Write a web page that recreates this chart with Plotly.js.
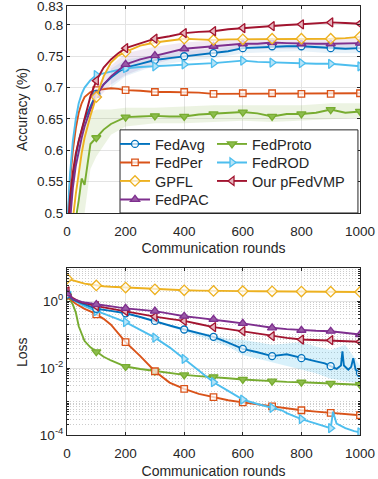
<!DOCTYPE html>
<html><head><meta charset="utf-8">
<script src="https://cdn.plot.ly/plotly-3.0.1.min.js"></script>
<style>html,body{margin:0;padding:0;background:#fff;} #chart{width:378px;height:479px;}</style>
</head><body><div id="chart"></div>
<script>
// ---------- data ----------
const rounds = [0,10,20,30,40,50,60,80,100,125,150,175,200,250,300,350,400,450,500,550,600,650,700,750,800,850,900,950,1000];

const accFedAvg   = [0.44,0.51,0.555,0.59,0.615,0.632,0.648,0.67,0.69,0.705,0.716,0.725,0.732,0.738,0.744,0.747,0.750,0.752,0.755,0.758,0.763,0.764,0.766,0.766,0.766,0.765,0.763,0.762,0.763];
const accFedPer   = [0.46,0.55,0.60,0.635,0.66,0.675,0.685,0.693,0.696,0.698,0.699,0.698,0.696,0.695,0.693,0.693,0.693,0.692,0.690,0.690,0.691,0.691,0.691,0.690,0.690,0.690,0.690,0.690,0.691];
const accGPFL     = [0.42,0.45,0.49,0.53,0.565,0.595,0.62,0.655,0.685,0.718,0.74,0.751,0.757,0.767,0.772,0.775,0.778,0.777,0.776,0.777,0.777,0.777,0.778,0.777,0.778,0.778,0.778,0.779,0.781];
const accFedPAC   = [0.43,0.49,0.54,0.575,0.60,0.62,0.638,0.665,0.688,0.705,0.718,0.728,0.737,0.745,0.751,0.757,0.762,0.764,0.766,0.768,0.770,0.770,0.772,0.771,0.770,0.770,0.770,0.771,0.771];
const accFedProto = [0.38,0.42,0.46,0.49,0.52,0.555,0.545,0.61,0.62,0.633,0.642,0.648,0.653,0.654,0.655,0.654,0.654,0.657,0.658,0.659,0.661,0.659,0.654,0.658,0.658,0.660,0.665,0.660,0.662];
const accFedROD   = [0.47,0.56,0.615,0.65,0.675,0.69,0.70,0.712,0.72,0.723,0.725,0.728,0.731,0.733,0.734,0.736,0.737,0.738,0.739,0.741,0.743,0.741,0.740,0.739,0.739,0.738,0.738,0.736,0.734];
const accPFedVMP  = [0.45,0.525,0.565,0.595,0.615,0.633,0.65,0.686,0.711,0.732,0.745,0.755,0.763,0.771,0.778,0.782,0.787,0.789,0.790,0.793,0.795,0.796,0.798,0.800,0.801,0.802,0.804,0.803,0.802];

// light noise envelopes (accuracy)
const protoBandX  = [40,60,80,100,150,200,300,400,500,600,700,800,900,1000];
const protoBandHi = [0.60,0.64,0.66,0.665,0.665,0.668,0.668,0.67,0.672,0.672,0.672,0.672,0.675,0.675];
const protoBandLo = [0.50,0.50,0.57,0.59,0.625,0.638,0.643,0.643,0.645,0.647,0.645,0.648,0.65,0.652];
const pacBandX    = [100,150,200,300,400,500,600,700,800,900,1000];
const pacBandHi   = [0.70,0.735,0.755,0.765,0.772,0.775,0.778,0.779,0.778,0.778,0.778];
const pacBandLo   = [0.68,0.705,0.72,0.738,0.75,0.757,0.762,0.763,0.762,0.762,0.762];
const avgBandX    = [150,200,300,400,500,600,700,800,900,1000];
const avgBandHi   = [0.73,0.745,0.752,0.758,0.762,0.768,0.771,0.771,0.77,0.769];
const avgBandLo   = [0.70,0.718,0.735,0.742,0.747,0.755,0.757,0.758,0.755,0.755];

// loss
const lossFedPer   = [1.5,1.2,1.0,0.85,0.75,0.67,0.6,0.5,0.41,0.3,0.2,0.11,0.06,0.023,0.0081,0.0037,0.0024,0.0017,0.00137,0.0011,0.00095,0.00082,0.00072,0.00063,0.00055,0.0005,0.00046,0.00042,0.00039];
const lossGPFL     = [4.8,4.5,4.2,3.95,3.75,3.55,3.4,3.2,3.0,2.85,2.75,2.67,2.6,2.45,2.3,2.22,2.15,2.1,2.05,2.04,2.03,2.01,2.0,1.98,1.97,1.96,1.95,1.93,1.92];
const lossFedPAC   = [1.7,1.4,1.2,1.1,1.02,0.97,0.93,0.87,0.81,0.76,0.71,0.66,0.62,0.56,0.51,0.43,0.36,0.32,0.29,0.25,0.22,0.19,0.162,0.148,0.137,0.132,0.128,0.115,0.102];
const lossFedProto = [1.45,1.15,0.8,0.47,0.18,0.10,0.065,0.042,0.031,0.022,0.017,0.0135,0.0112,0.0095,0.0082,0.0072,0.0063,0.0058,0.0055,0.005,0.0046,0.0043,0.0041,0.0039,0.0038,0.0036,0.0035,0.0033,0.0032];
const lossPFedVMP  = [2.0,1.5,1.25,1.1,1.0,0.93,0.88,0.8,0.72,0.66,0.6,0.55,0.51,0.42,0.35,0.3,0.26,0.21,0.17,0.148,0.128,0.108,0.091,0.081,0.072,0.07,0.069,0.065,0.062];

const avgLossRounds = [0,10,20,40,60,80,100,150,200,250,300,350,400,450,500,550,600,650,700,750,800,850,880,900,920,935,940,945,960,970,977,985,1000];
const lossFedAvg    = [1.6,1.3,1.12,0.95,0.82,0.7,0.6,0.52,0.44,0.34,0.26,0.19,0.144,0.11,0.087,0.058,0.038,0.03,0.023,0.026,0.020,0.016,0.014,0.0115,0.0095,0.012,0.032,0.012,0.009,0.011,0.020,0.009,0.0072];
const rodLossRounds = [0,10,20,30,40,50,60,80,100,125,150,175,200,250,300,350,400,450,500,550,600,650,700,733,750,800,850,900,908,920,950,980,1000];
const lossFedROD    = [1.9,1.4,1.15,1.0,0.9,0.8,0.72,0.6,0.51,0.43,0.35,0.29,0.24,0.14,0.082,0.042,0.019,0.0085,0.0038,0.0021,0.00115,0.00085,0.00065,0.00055,0.00045,0.0003,0.00022,0.00016,0.0005,0.00022,0.00016,0.00013,0.00012];

const avgLossBandX  = [350,400,450,500,550,600,650,700,750,800,850,900,950,1000];
const avgLossBandHi = [0.2,0.16,0.12,0.1,0.075,0.07,0.06,0.05,0.055,0.06,0.045,0.035,0.05,0.012];
const avgLossBandLo = [0.17,0.125,0.09,0.065,0.045,0.025,0.02,0.015,0.012,0.009,0.007,0.0048,0.004,0.0035];

const xTicks = [0,200,400,600,800,1000];
const accTicks = [0.5,0.55,0.6,0.65,0.7,0.75,0.8,0.83];
const accTickText = ['0.5','0.55','0.6','0.65','0.7','0.75','0.8','0.83'];
const lossTicks = [1e-4,1e-2,1];
const lossTickText = ['10<sup>-4</sup>','10<sup>-2</sup>','10<sup>0</sup>'];

// ---------- styles ----------
const S = {
  FedAvg:   {c:'#0072BD', sym:'circle',         fill:'rgba(255,255,255,0.7)', ms:7},
  FedPer:   {c:'#D95319', sym:'square',         fill:'rgba(255,255,255,0.7)', ms:6.5},
  GPFL:     {c:'#EDB120', sym:'diamond',        fill:'rgba(255,255,255,0.7)', ms:8},
  FedPAC:   {c:'#7E2F8E', sym:'triangle-up',    fill:'#9a5aa6', ms:8},
  FedProto: {c:'#77AC30', sym:'triangle-down',  fill:'#8cbd4c', ms:8},
  FedROD:   {c:'#4DBEEE', sym:'triangle-right', fill:'#b5e3f7', ms:8},
  VMP:      {c:'#A2142F', sym:'triangle-left',  fill:'#e6b5be', ms:8}
};

const traces = [];
function band(bx, hi, lo, col, xa, ya) {
  traces.push({x: bx.concat(bx.slice().reverse()), y: hi.concat(lo.slice().reverse()),
    xaxis: xa, yaxis: ya, mode:'lines', fill:'toself', fillcolor: col,
    line:{width:0}, hoverinfo:'skip', showlegend:false});
}
function series(xs, ys, st, xa, ya) {
  traces.push({x: xs, y: ys, xaxis: xa, yaxis: ya, mode:'lines',
    line:{color: st.c, width: 1.9}, showlegend:false});
  const mx = [], my = [];
  xs.forEach((v,i) => { if (v % 100 === 0) { mx.push(v); my.push(ys[i]); } });
  traces.push({x: mx, y: my, xaxis: xa, yaxis: ya, mode:'markers',
    marker:{symbol: st.sym, size: st.ms, color: st.fill, line:{color: st.c, width:1.3}},
    showlegend:false});
}

band(protoBandX, protoBandHi, protoBandLo, 'rgba(119,172,48,0.14)', 'x', 'y');
band(pacBandX, pacBandHi, pacBandLo, 'rgba(126,47,142,0.11)', 'x', 'y');
band(avgBandX, avgBandHi, avgBandLo, 'rgba(0,114,189,0.09)', 'x', 'y');
series(rounds, accFedPer, S.FedPer, 'x', 'y');
series(rounds, accFedProto, S.FedProto, 'x', 'y');
series(rounds, accFedAvg, S.FedAvg, 'x', 'y');
series(rounds, accFedROD, S.FedROD, 'x', 'y');
series(rounds, accFedPAC, S.FedPAC, 'x', 'y');
series(rounds, accGPFL, S.GPFL, 'x', 'y');
series(rounds, accPFedVMP, S.VMP, 'x', 'y');

band(avgLossBandX, avgLossBandHi, avgLossBandLo, 'rgba(77,190,238,0.22)', 'x2', 'y2');
series(rounds, lossGPFL, S.GPFL, 'x2', 'y2');
series(rounds, lossFedProto, S.FedProto, 'x2', 'y2');
series(rounds, lossFedPer, S.FedPer, 'x2', 'y2');
series(rodLossRounds, lossFedROD, S.FedROD, 'x2', 'y2');
series(avgLossRounds, lossFedAvg, S.FedAvg, 'x2', 'y2');
series(rounds, lossPFedVMP, S.VMP, 'x2', 'y2');
series(rounds, lossFedPAC, S.FedPAC, 'x2', 'y2');

// legend proxies: one legend per entry (legend2..legend8), two columns
const legendNames = [
  ['FedAvg', S.FedAvg], ['FedPer', S.FedPer], ['GPFL', S.GPFL], ['FedPAC', S.FedPAC],
  ['FedProto', S.FedProto], ['FedROD', S.FedROD], ['Our pFedVMP', S.VMP]
];
const rowPx = [144, 162.5, 181, 199.5];
const colPx = [115, 212];
const legendLayouts = {};
legendNames.forEach((e, i) => {
  const key = 'legend' + (i + 2);
  traces.push({x:[null], y:[null], xaxis:'x', yaxis:'y', name: e[0], legend: key, showlegend:true,
    mode:'lines+markers', line:{color:e[1].c, width:1.9},
    marker:{symbol:e[1].sym, size:e[1].ms, color:e[1].fill, line:{color:e[1].c, width:1.3}}});
  const col = i < 4 ? 0 : 1, row = i < 4 ? i : i - 4;
  legendLayouts[key] = {x: colPx[col] / 378, y: 1 - rowPx[row] / 479, xanchor:'left', yanchor:'middle',
    xref:'container', yref:'container', visible:true,
    bgcolor:'rgba(0,0,0,0)', borderwidth:0, font:{size:14.5, color:'#262626'}};
});

const axisCommon = {
  automargin:false,
  showline:true, mirror:'ticks', linecolor:'#262626', linewidth:1,
  ticks:'inside', ticklen:3, tickcolor:'#262626', tickwidth:1,
  showgrid:true, gridcolor:'#e3e3e3', gridwidth:1, zeroline:false,
  tickfont:{size:13.5, color:'#262626'}
};
const titleFont = {size:14, color:'#262626'};

const layout = Object.assign({
  width:378, height:479,
  showlegend:true,
  margin:{l:67, r:18, t:6, b:44, autoexpand:false},
  paper_bgcolor:'#fff', plot_bgcolor:'#fff',
  font:{family:'"Liberation Sans", Arial, Helvetica, sans-serif', color:'#262626'},
  xaxis: Object.assign({}, axisCommon, {domain:[0,1], anchor:'y', range:[0,1000], tickvals:xTicks,
    ticklabelstandoff:6, title:{text:'Communication rounds', font:titleFont, standoff:5}}),
  yaxis: Object.assign({}, axisCommon, {domain:[0.5175,1], anchor:'x', range:[0.5,0.8302],
    ticklabeloverflow:'allow', tickvals:accTicks, ticktext:accTickText}),
  xaxis2: Object.assign({}, axisCommon, {domain:[0,1], anchor:'y2', range:[0,1000], tickvals:xTicks,
    ticklabelstandoff:6, title:{text:'Communication rounds', font:titleFont, standoff:5}}),
  yaxis2: Object.assign({}, axisCommon, {domain:[0,0.3893], anchor:'x2', type:'log', range:[-4,1],
    tickvals:lossTicks, ticktext:lossTickText,
    minor:{tickvals:(function(){const v=[];for(let e=-4;e<=0;e++){for(let k=1;k<=9;k++){const t=k*Math.pow(10,e);if(!(k===1&&(e%2===0)))v.push(t);}}return v;})(),
      showgrid:true, gridcolor:'#cccccc', griddash:'1px,2px', gridwidth:1, ticks:'inside', ticklen:2, tickcolor:'#262626'}}),
  annotations:[
    {text:'Accuracy (%)', xref:'paper', yref:'paper', x:(22-67)/293, y:(435-110)/429, textangle:-90,
      showarrow:false, font:titleFont, xanchor:'center', yanchor:'middle'},
    {text:'Loss', xref:'paper', yref:'paper', x:(22-67)/293, y:(435-352)/429, textangle:-90,
      showarrow:false, font:titleFont, xanchor:'center', yanchor:'middle'}
  ],
  shapes:[{type:'rect', xref:'x', yref:'y', x0:181, x1:993, y0:0.5, y1:0.6326,
    fillcolor:'#ffffff', line:{color:'#262626', width:1}, layer:'above'}]
}, legendLayouts);

Plotly.newPlot('chart', traces, layout, {staticPlot:true, displayModeBar:false});
</script></body></html>
